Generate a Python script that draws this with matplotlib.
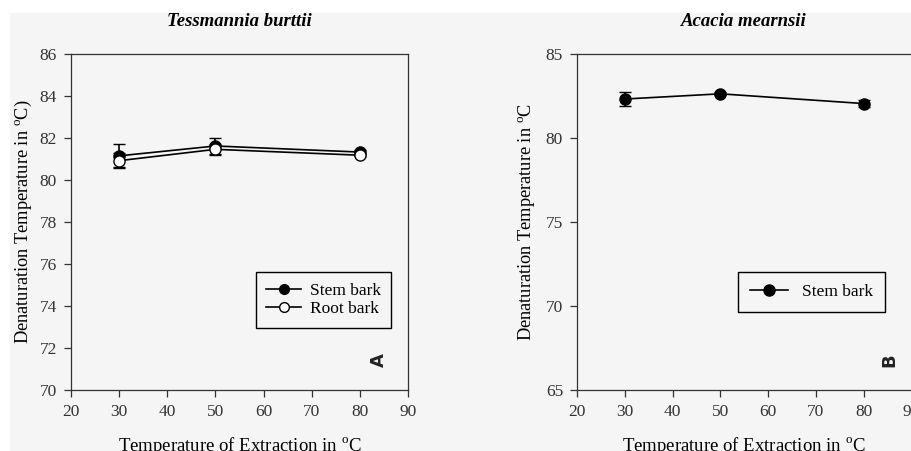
import matplotlib
matplotlib.use('Agg')
import matplotlib.pyplot as plt
from matplotlib.patches import Rectangle
from matplotlib.lines import Line2D

plt.rcParams['font.family'] = ['Liberation Serif', 'DejaVu Serif']
plt.rcParams['mathtext.fontset'] = 'custom'
plt.rcParams['mathtext.rm'] = 'Liberation Serif'

# extraction temperatures
temp = [30, 50, 80]

# Tessmannia burttii
tb_stem = [81.15, 81.62, 81.33]
tb_stem_err = [0.55, 0.40, 0.08]
tb_root = [80.92, 81.46, 81.18]
tb_root_err = [0.35, 0.25, 0.06]

# Acacia mearnsii
am_stem = [82.32, 82.63, 82.05]
am_stem_err = [0.40, 0.10, 0.22]

W, H = 911, 451
fig = plt.figure(figsize=(W / 100, H / 100), dpi=100, facecolor='white')
fig.patches.append(Rectangle((10 / W, 0), 1, 1 - 13 / H, transform=fig.transFigure,
                             facecolor='#f5f5f5', edgecolor='none', zorder=-10))

ax1 = fig.add_axes([71 / W, 1 - 390 / H, 337 / W, 336 / H])
ax2 = fig.add_axes([577 / W, 1 - 390 / H, 334.5 / W, 336 / H])

for ax in (ax1, ax2):
    ax.set_facecolor('#f5f5f5')
    for s in ax.spines.values():
        s.set_linewidth(0.9)
        s.set_color('#333333')
    ax.tick_params(direction='out', length=5, width=0.9, labelsize=12.5,
                   colors='#333333', labelcolor='#333333', pad=5)
    ax.set_xlim(20, 90)
    ax.set_xticks(range(20, 100, 10))
    ax.set_xlabel(r'Temperature of Extraction in $^{\mathrm{o}}$C', fontsize=13.5, labelpad=11)

ax1.errorbar(temp, tb_stem, yerr=tb_stem_err, color='black', marker='o', ms=8,
             mfc='black', mec='black', lw=1.2, capsize=4, elinewidth=1.2, zorder=3)
ax1.errorbar(temp, tb_root, yerr=tb_root_err, color='black', marker='o', ms=8,
             mfc='white', mec='black', lw=1.2, capsize=4, elinewidth=1.2, zorder=4)
ax1.set_ylim(70, 86)
ax1.set_yticks(range(70, 87, 2))
ax1.set_ylabel(r'Denaturation Temperature in $^{\mathrm{o}}$C)', fontsize=13.2, labelpad=4)
ax1.set_title('Tessmannia burttii', fontsize=13.5, fontweight='bold', style='italic', pad=20)
h1 = [Line2D([], [], color='black', lw=1.2, marker='o', ms=7, mfc='black', mec='black'),
      Line2D([], [], color='black', lw=1.2, marker='o', ms=7, mfc='white', mec='black')]
leg1 = ax1.legend(h1, ['Stem bark', 'Root bark'], loc='lower right',
                  bbox_to_anchor=(0.95, 0.185), borderaxespad=0, fontsize=12.5,
                  frameon=True, fancybox=False, edgecolor='black', facecolor='#f5f5f5',
                  framealpha=1, handlelength=2.0, handletextpad=0.5, borderpad=0.6,
                  labelspacing=0.15)
leg1.get_frame().set_linewidth(1.0)
ax1.text(0.915, 0.09, 'A', transform=ax1.transAxes, rotation=90, fontsize=13,
         fontweight='bold', family='DejaVu Sans', ha='center', va='center', color='#222222')

ax2.errorbar(temp, am_stem, yerr=am_stem_err, color='black', marker='o', ms=8,
             mfc='black', mec='black', lw=1.2, capsize=4, elinewidth=1.2)
ax2.set_ylim(65, 85)
ax2.set_yticks(range(65, 86, 5))
ax2.set_ylabel(r'Denaturation Temperature in $^{\mathrm{o}}$C', fontsize=13.2, labelpad=6)
ax2.set_title('Acacia mearnsii', fontsize=13.5, fontweight='bold', style='italic', pad=20)
h2 = [Line2D([], [], color='black', lw=1.2, marker='o', ms=8, mfc='black', mec='black')]
leg2 = ax2.legend(h2, ['Stem bark'], loc='lower right', bbox_to_anchor=(0.921, 0.232),
                  borderaxespad=0, fontsize=12.5, frameon=True, fancybox=False,
                  edgecolor='black', facecolor='#f5f5f5', framealpha=1,
                  handlelength=2.2, handletextpad=0.8, borderpad=0.7)
leg2.get_frame().set_linewidth(1.0)
ax2.text(0.935, 0.09, 'B', transform=ax2.transAxes, rotation=90, fontsize=13,
         fontweight='bold', family='DejaVu Sans', ha='center', va='center', color='#222222')

fig.savefig('out.png', dpi=100, facecolor=fig.get_facecolor())
